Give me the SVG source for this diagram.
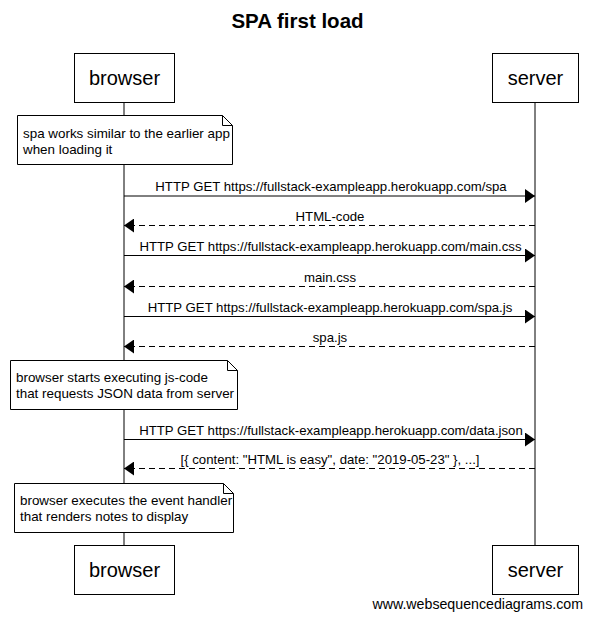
<svg xmlns="http://www.w3.org/2000/svg" width="593" height="619" viewBox="0 0 593 619">
<style>
text{font-family:"Liberation Sans",Arial,sans-serif;fill:#000}
.title{font-size:20.5px;font-weight:bold;text-anchor:middle}
.actor rect{fill:#fff;stroke:#000;stroke-width:1}
.actor text{font-size:20px;text-anchor:middle}
.note path{fill:#fff;stroke:#000;stroke-width:1}
.note text{font-size:13.4px}
.msg{stroke:#000;stroke-width:1;fill:none}
.dash{stroke-dasharray:6,4}
.lbl{font-size:13.2px;text-anchor:middle}
.life{stroke:#000;stroke-width:1}
</style>
<defs>
<marker id="ah" markerWidth="10" markerHeight="14" refX="10" refY="7" orient="auto" markerUnits="userSpaceOnUse">
<path d="M0,0 L10,7 L0,14 Z" fill="#000"/>
</marker>
</defs>
<rect width="593" height="619" fill="#fff"/>
<text class="title" x="297.5" y="28">SPA first load</text>
<g id="lifelines">
<line class="life" x1="124" y1="102" x2="124" y2="545"/>
<line class="life" x1="535" y1="102" x2="535" y2="545"/>
</g>
<g id="browser-top" class="actor"><rect x="74.5" y="53.5" width="100" height="49"/><text x="124.5" y="85">browser</text></g>
<g id="server-top" class="actor"><rect x="492.5" y="53.5" width="86" height="49"/><text x="535.5" y="85">server</text></g>
<g id="browser-bottom" class="actor"><rect x="74.5" y="545.5" width="100" height="49"/><text x="124.5" y="577">browser</text></g>
<g id="server-bottom" class="actor"><rect x="492.5" y="545.5" width="86" height="49"/><text x="535.5" y="577">server</text></g>
<g id="note1" class="note"><path d="M17.5,115.5 H222.5 L232.5,125.5 V164.5 H17.5 Z M222.5,115.5 V125.5 H232.5"/><text x="23" y="138">spa works similar to the earlier app</text><text x="23" y="154">when loading it</text></g>
<g id="note2" class="note"><path d="M10.5,360.5 H227.5 L237.5,370.5 V409.5 H10.5 Z M227.5,360.5 V370.5 H237.5"/><text x="16" y="382">browser starts executing js-code</text><text x="16" y="398">that requests JSON data from server</text></g>
<g id="note3" class="note"><path d="M14.5,483.5 H223.5 L233.5,493.5 V532.5 H14.5 Z M223.5,483.5 V493.5 H233.5"/><text x="20" y="505">browser executes the event handler</text><text x="20" y="521">that renders notes to display</text></g>
<g id="connectors">
<line class="msg" x1="124" y1="196" x2="535" y2="196" marker-end="url(#ah)"/>
<text class="lbl" x="331" y="191">HTTP GET https://fullstack-exampleapp.herokuapp.com/spa</text>
<line class="msg dash" x1="535" y1="225.5" x2="124" y2="225.5" marker-end="url(#ah)"/>
<text class="lbl" x="330" y="221">HTML-code</text>
<line class="msg" x1="124" y1="255.5" x2="535" y2="255.5" marker-end="url(#ah)"/>
<text class="lbl" x="330.5" y="251">HTTP GET https://fullstack-exampleapp.herokuapp.com/main.css</text>
<line class="msg dash" x1="535" y1="286.5" x2="124" y2="286.5" marker-end="url(#ah)"/>
<text class="lbl" x="330" y="282">main.css</text>
<line class="msg" x1="124" y1="316.5" x2="535" y2="316.5" marker-end="url(#ah)"/>
<text class="lbl" x="330" y="312">HTTP GET https://fullstack-exampleapp.herokuapp.com/spa.js</text>
<line class="msg dash" x1="535" y1="346.5" x2="124" y2="346.5" marker-end="url(#ah)"/>
<text class="lbl" x="330" y="342">spa.js</text>
<line class="msg" x1="124" y1="439.5" x2="535" y2="439.5" marker-end="url(#ah)"/>
<text class="lbl" x="331" y="435">HTTP GET https://fullstack-exampleapp.herokuapp.com/data.json</text>
<line class="msg dash" x1="535" y1="468.5" x2="124" y2="468.5" marker-end="url(#ah)"/>
<text class="lbl" x="330" y="464">[{ content: "HTML is easy", date: "2019-05-23" }, ...]</text>
</g>
<text x="583" y="609" style="font-size:14.2px;text-anchor:end">www.websequencediagrams.com</text>
</svg>
